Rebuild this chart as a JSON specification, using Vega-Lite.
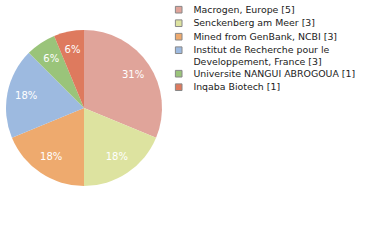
{
  "$schema": "https://vega.github.io/schema/vega-lite/v6.json",
  "width": 158,
  "height": 206,
  "padding": 5,
  "background": "white",
  "config": {"view": {"stroke": null}},
  "data": {"values": [
    {"name": "Macrogen, Europe [5]", "count": 5, "pct": "31%", "i": 1},
    {"name": "Senckenberg am Meer [3]", "count": 3, "pct": "18%", "i": 2},
    {"name": "Mined from GenBank, NCBI [3]", "count": 3, "pct": "18%", "i": 3},
    {"name": "Institut de Recherche pour le|Developpement, France [3]", "count": 3, "pct": "18%", "i": 4},
    {"name": "Universite NANGUI ABROGOUA [1]", "count": 1, "pct": "6%", "i": 5},
    {"name": "Inqaba Biotech [1]", "count": 1, "pct": "6%", "i": 6}
  ]},
  "encoding": {
    "theta": {"field": "count", "type": "quantitative", "stack": true},
    "order": {"field": "i", "type": "quantitative"}
  },
  "layer": [
    {
      "mark": {"type": "arc", "outerRadius": 78},
      "encoding": {
        "color": {
          "field": "name", "type": "nominal",
          "sort": {"field": "i"},
          "scale": {
            "domain": ["Macrogen, Europe [5]", "Senckenberg am Meer [3]", "Mined from GenBank, NCBI [3]", "Institut de Recherche pour le|Developpement, France [3]", "Universite NANGUI ABROGOUA [1]", "Inqaba Biotech [1]"],
            "range": ["#e0a49a", "#dde3a0", "#eeaa6e", "#9dbae0", "#9ac47a", "#de7a5e"]
          },
          "legend": {
            "orient": "none",
            "legendX": 169,
            "legendY": 0,
            "title": null,
            "symbolType": "square",
            "symbolSize": 44,
            "symbolStrokeWidth": 1,
            "symbolStrokeColor": "#888",
            "labelFont": "DejaVu Sans",
            "labelFontSize": 9.4,
            "labelColor": "#222",
            "labelLimit": 300,
            "labelOffset": 10,
            "rowPadding": 1.5,
            "labelExpr": "split(datum.label, '|')"
          }
        }
      }
    },
    {
      "mark": {"type": "text", "radius": 59, "font": "DejaVu Sans", "fontSize": 10, "color": "white"},
      "encoding": {"text": {"field": "pct"}}
    }
  ]
}
